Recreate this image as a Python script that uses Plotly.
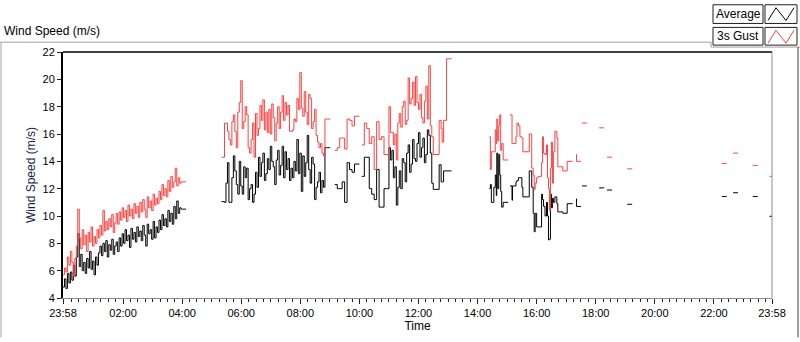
import plotly.graph_objects as go

# ---------------- data ----------------
# segment 1: samples every 3 min from 23:58, plus end point
seg1_avg = [4.8, 5.4, 4.7, 5.8, 5.1, 5.9, 5.3, 6.4, 5.6, 7.0,
            8.7,
            6.3, 7.2, 6.0, 6.6, 5.8, 6.9, 6.2, 7.4, 6.1, 6.7, 5.7, 7.0, 6.4, 7.3,
            7.8, 7.1, 8.0, 7.4, 8.2, 7.0, 7.9, 7.5, 8.3, 7.2, 7.8, 8.1, 7.4,
            8.4, 7.8, 8.7, 8.0, 9.0, 8.2, 8.6, 7.7, 9.1, 8.3, 8.8, 8.1, 9.2, 8.5, 8.9,
            8.2, 9.3, 8.6, 7.8, 9.4, 8.7, 9.0, 8.3, 9.6, 8.4, 9.2, 8.8, 9.7,
            9.0, 10.1, 9.3, 9.8, 9.2, 10.4, 9.6, 10.2, 9.4, 10.7, 9.8, 11.1, 10.2, 10.6,
            10.5, 10.5, 10.5, 10.5]
seg1_gust = [5.7, 6.2, 5.9, 7.0, 6.4, 7.4, 6.6, 5.6, 6.9, 7.8,
             10.5,
             8.4, 7.6, 9.0, 7.9, 8.6, 7.4, 8.8, 8.1, 9.2, 7.8, 8.5, 8.0, 9.0, 8.4,
             9.3, 8.6, 10.4, 8.9, 9.6, 9.0, 9.8, 9.2, 10.1, 8.8, 9.5, 10.2, 9.4,
             10.3, 9.7, 10.6, 9.9, 10.4, 9.6, 10.8, 10.0, 10.5, 9.8, 10.9, 10.2, 10.7, 9.9, 11.0,
             10.3, 11.2, 10.5, 9.9, 11.4, 10.6, 11.1, 10.4, 11.6, 10.8, 11.3, 10.9, 11.8,
             11.2, 12.3, 11.5, 12.0, 11.4, 12.6, 11.8, 12.9, 12.1, 12.5, 13.5, 12.2, 12.8, 12.4,
             12.5, 12.5, 12.5, 12.5]

# segment 2: samples every 3 min from 05:20, plus end point
seg2_avg = [11.05, 11.05, 11.0, 12.4, 13.9, 11.0, 11.0, 12.8, 14.4, 13.3,
            12.3, 11.6, 14.0, 12.2, 11.6, 13.6, 12.8, 13.5, 11.2, 12.0,
            12.3, 11.0, 11.6, 13.2, 12.1, 14.3, 12.9, 13.9, 14.6, 12.6,
            13.1, 14.2, 13.4, 15.1, 14.0, 13.6, 12.3, 14.1, 14.8, 13.0,
            13.7, 15.1, 12.8, 14.7, 13.4, 14.2, 12.6, 13.5, 12.8, 14.0,
            13.3, 15.6, 13.1, 14.6, 11.8, 14.4, 12.9, 13.9, 15.9, 13.4,
            12.4, 14.3, 13.8, 11.2, 12.1, 12.5, 13.2, 11.7, 12.6, 12.1,
            15.0, 15.0, 15.0, 15.0, 15.0]
seg2_gust = [14.3, 14.3, 16.8, 16.8, 16.2, 15.6, 15.2, 16.9, 17.4, 16.2,
             15.0, 17.6, 18.3, 19.9, 16.4, 16.9, 18.0, 17.4, 15.0, 14.6,
             15.6, 16.8, 14.3, 17.5, 15.9, 16.4, 18.1, 17.0, 18.5, 16.3,
             17.6, 16.1, 17.8, 16.0, 18.2, 17.2, 15.5, 16.8, 18.0, 16.4,
             17.6, 18.8, 17.0, 18.3, 17.4, 18.1, 16.2, 16.2, 16.3, 17.1,
             16.9, 18.6, 17.8, 20.5, 17.9, 17.3, 19.1, 17.6, 16.7, 18.9,
             18.6, 16.4, 16.9, 17.8, 15.9, 15.4, 15.0, 15.3, 14.6, 14.4,
             17.1, 17.1, 17.1, 17.1, 17.1]

seg3_t = ["09:10", "09:15", "09:20", "09:25", "09:30", "09:35", "09:40", "09:45", "09:50", "09:55", "10:00"]
seg3_avg = [12.3, 12.0, 12.0, 12.5, 11.0, 13.9, 13.4, 13.2, 13.8, 13.8, 13.8]
seg3_gust = [14.8, 15.0, 15.7, 15.7, 14.9, 17.1, 17.0, 16.6, 17.3, 17.3, 17.3]

seg4_t = ["10:05", "10:10", "10:15", "10:20", "10:25", "10:30", "10:35", "10:40", "10:45", "10:50", "10:55",
          "11:00", "11:03", "11:06", "11:09", "11:12", "11:15", "11:18", "11:21", "11:24", "11:27",
          "11:30", "11:33", "11:36", "11:39", "11:42", "11:45", "11:48", "11:51", "11:54", "11:57",
          "12:00", "12:03", "12:06", "12:09", "12:12", "12:15", "12:18", "12:21", "12:24", "12:27",
          "12:30", "12:42", "12:46", "12:48", "12:51", "12:57", "13:07"]
seg4_avg = [12.9, 14.3, 14.3, 12.0, 11.6, 11.2, 13.4, 10.65, 10.65, 12.0, 12.0,
            15.0, 14.1, 14.8, 12.8, 13.6, 10.8, 12.1, 13.3, 12.0, 14.2,
            13.9, 12.5, 14.6, 15.2, 13.2, 13.8, 15.6, 14.2, 14.0, 15.3,
            16.1, 14.3, 15.0, 15.7, 13.9, 14.5, 16.3, 15.9, 14.6, 12.4,
            11.95, 13.75, 12.5, 12.5, 13.3, 13.3, 13.3]
seg4_gust = [15.2, 16.8, 16.4, 15.3, 15.8, 13.4, 16.9, 15.6, 15.8, 14.5, 14.5,
             18.0, 16.1, 16.1, 15.2, 16.0, 14.1, 16.8, 17.5, 16.5, 18.0,
             18.4, 16.7, 17.0, 20.1, 18.2, 18.6, 19.8, 18.1, 20.2, 18.3,
             17.8, 18.9, 17.2, 16.8, 18.4, 19.5, 17.1, 21.0, 16.6, 15.8,
             14.5, 17.0, 16.4, 15.4, 17.0, 21.5, 21.5]

seg5_t = ["14:24", "14:26", "14:28", "14:33", "14:36", "14:38", "14:39", "14:41", "14:43", "14:45",
          "14:47", "14:49", "14:52", "15:02"]
seg5_avg = [12.0, 12.3, 11.0, 12.1, 13.0, 11.5, 14.6, 12.0, 14.5, 13.0, 11.8, 10.65, 11.0, 11.0]
seg5_gust = [15.8, 13.4, 14.7, 14.7, 16.3, 15.3, 17.1, 15.5, 16.6, 17.4, 14.8, 15.3, 14.1, 14.1]

seg6_t = ["15:06", "15:10", "15:11", "15:18", "15:20", "15:23", "15:26", "15:30", "15:32", "15:45",
          "15:50", "15:53", "15:55", "15:57", "16:00", "16:03", "16:10", "16:12", "16:14", "16:17",
          "16:20", "16:22", "16:24", "16:26", "16:28", "16:30", "16:32", "16:34", "16:37", "16:41",
          "16:43", "16:53", "17:02", "17:13"]
seg6_avg = [12.2, 11.15, 12.2, 12.5, 12.6, 12.8, 12.8, 12.1, 11.4, 13.3,
            12.1, 10.2, 8.85, 10.2, 9.2, 9.2, 11.6, 11.2, 10.7, 10.0,
            11.0, 10.0, 8.25, 8.3, 11.6, 10.6, 11.3, 11.0, 11.4, 10.9,
            10.3, 10.2, 10.9, 10.9]
seg6_gust = [17.4, 15.3, 15.3, 15.8, 16.8, 16.6, 15.8, 15.7, 14.7, 16.0,
             13.5, 13.0, 11.95, 12.4, 12.8, 12.9, 13.9, 15.8, 14.6, 14.5,
             15.2, 12.8, 12.0, 10.4, 13.5, 15.4, 12.4, 14.7, 16.2, 15.7,
             13.6, 13.3, 14.0, 14.0]

tail_t = ["17:16", "17:20", "17:21", "17:30", "17:31", "17:32", "17:42", "17:50", "18:07", "18:17",
          "18:20", "18:23", "18:33", "18:40", "19:04", "19:14", "19:20", "22:16", "22:26", "22:30",
          "22:39", "22:49", "22:55", "23:19", "23:29", "23:35", "23:53", "23:58"]
tail_avg = [None, 11.25, 10.7, 10.7, None, 12.2, 12.2, None, 12.06, 12.06,
            None, 11.9, 11.9, None, 10.86, 10.86, None, 11.42, 11.42, None,
            11.7, 11.7, None, 11.42, 11.42, None, 9.98, 9.98]
tail_gust = [None, 14.5, 14.0, 14.0, None, 16.8, 16.8, None, 16.45, 16.45,
             None, 14.3, 14.3, None, 13.45, 13.45, None, 13.85, 13.85, None,
             14.6, 14.6, None, 13.7, 13.7, None, 12.9, 12.9]

gap_t = ["04:30", "09:05", "10:02", "13:30", "15:04"]

x_tick_labels = ["23:58", "02:00", "04:00", "06:00", "08:00", "10:00", "12:00",
                 "14:00", "16:00", "18:00", "20:00", "22:00", "23:58"]


# ---------------- assemble ----------------
def grid(start, step, n):
    h, m = map(int, start.split(":"))
    s = h * 60 + m
    return [f"{((s + i * step) // 60) % 24:02d}:{(s + i * step) % 60:02d}" for i in range(n)]


seg1_t = grid("23:58", 3, len(seg1_avg) - 1) + ["04:08"]
seg2_t = grid("05:20", 3, len(seg2_avg) - 1) + ["09:01"]

times = (seg1_t + [gap_t[0]] + seg2_t + [gap_t[1]] + seg3_t + [gap_t[2]] + seg4_t
         + [gap_t[3]] + seg5_t + [gap_t[4]] + seg6_t + tail_t)
average = (seg1_avg + [None] + seg2_avg + [None] + seg3_avg + [None] + seg4_avg
           + [None] + seg5_avg + [None] + seg6_avg + tail_avg)
gust = (seg1_gust + [None] + seg2_gust + [None] + seg3_gust + [None] + seg4_gust
        + [None] + seg5_gust + [None] + seg6_gust + tail_gust)
assert len(times) == len(average) == len(gust)
assert len(seg1_avg) == len(seg1_gust) and len(seg2_avg) == len(seg2_gust)


def to_datetimes(hhmm):
    out, day, prev = [], 1, None
    for t in hhmm:
        h, m = map(int, t.split(":"))
        mins = h * 60 + m
        if prev is not None and mins < prev:
            day = 2
        prev = mins
        out.append(f"2024-01-0{day} {t}")
    return out


xs = to_datetimes(times)
tick_vals = to_datetimes(x_tick_labels)

fig = go.Figure()
fig.add_trace(go.Scatter(x=xs, y=average, mode="lines", name="Average",
                         line=dict(color="#000000", width=1, shape="hv"),
                         connectgaps=False, showlegend=False))
fig.add_trace(go.Scatter(x=xs, y=gust, mode="lines", name="3s Gust",
                         line=dict(color="#ff4040", width=1, shape="hv"),
                         connectgaps=False, showlegend=False))

L, R, T, B = 63, 28, 52, 40
W, H = 800, 342
PW, PH = W - L - R, H - T - B


def px(x):
    return (x - L) / PW


def py(y):
    return (H - B - y) / PH


shapes = []


def seg(x0, y0, x1, y1, color, width=1):
    shapes.append(dict(type="line", xref="paper", yref="paper",
                       x0=px(x0), y0=py(y0), x1=px(x1), y1=py(y1),
                       line=dict(color=color, width=width)))


# plot frame: dark top/left, grey right/bottom
seg(L, T, W - R, T, "#000000", 1.5)
seg(W - R, T, W - R, H - B, "#8c8c8c", 1)
# outer control frame
seg(0.5, 42, 711, 42, "#a0a0a0", 1)
seg(711, 42, 711, 47, "#a0a0a0", 1)
seg(711, 47, 800, 47, "#a0a0a0", 1)
seg(1, 42, 1, 342, "#a0a0a0", 1)
seg(798, 47, 798, 342, "#404040", 1)

# legend boxes
for (y0, y1) in [(4, 23), (27, 45)]:
    for (x0, x1) in [(713, 763), (765, 797)]:
        shapes.append(dict(type="rect", xref="paper", yref="paper",
                           x0=px(x0), x1=px(x1), y0=py(y1), y1=py(y0),
                           line=dict(color="#202020", width=1), fillcolor="white"))
for (yt, col) in [(4, "#000000"), (27, "#ff4040")]:
    pts = [(768, yt + 16), (776, yt + 3), (786, yt + 16), (794, yt + 3)]
    path = "M " + " L ".join(f"{px(a)},{py(b)}" for a, b in pts)
    shapes.append(dict(type="path", xref="paper", yref="paper", path=path,
                       line=dict(color=col, width=1)))

annotations = [
    dict(text="Average", xref="paper", yref="paper", x=px(738), y=py(13.5),
         showarrow=False, font=dict(size=12, color="#000000"), xanchor="center", yanchor="middle"),
    dict(text="3s Gust", xref="paper", yref="paper", x=px(738), y=py(36),
         showarrow=False, font=dict(size=12, color="#000000"), xanchor="center", yanchor="middle"),
]

fig.update_layout(
    width=W, height=H,
    margin=dict(l=L, r=R, t=T, b=B),
    paper_bgcolor="white", plot_bgcolor="white",
    font=dict(family="Liberation Sans, Arial, sans-serif", size=11, color="#000000"),
    title=dict(text="Wind Speed (m/s)", x=4 / W, xanchor="left", xref="container",
               y=1 - 31 / H, yanchor="middle", yref="container",
               font=dict(size=12, color="#000000")),
    shapes=shapes, annotations=annotations,
    xaxis=dict(type="date", range=[tick_vals[0], tick_vals[-1]],
               tickmode="array", tickvals=tick_vals, ticktext=x_tick_labels,
               ticks="outside", ticklen=5, tickwidth=1, tickcolor="#222222",
               minor=dict(ticks="outside", ticklen=3, tickwidth=1, tickcolor="#222222",
                          dtick=15 * 60 * 1000, tick0="2024-01-02 00:00", showgrid=False),
               showgrid=False, zeroline=False,
               showline=True, linecolor="#8c8c8c", linewidth=1,
               tickfont=dict(size=11),
               title=dict(text="Time", font=dict(size=12), standoff=2)),
    yaxis=dict(range=[4, 22], tick0=4, dtick=2,
               ticks="outside", ticklen=4, tickwidth=1, tickcolor="#222222",
               showgrid=False, zeroline=False,
               showline=True, linecolor="#000000", linewidth=2,
               tickfont=dict(size=11),
               title=dict(text="Wind Speed (m/s)", font=dict(size=12, color="#1a1f4a"), standoff=4)),
)

fig.write_html("out.html", config={"displayModeBar": False},
               post_script="document.body.style.margin='0px';document.body.style.overflow='hidden';")
